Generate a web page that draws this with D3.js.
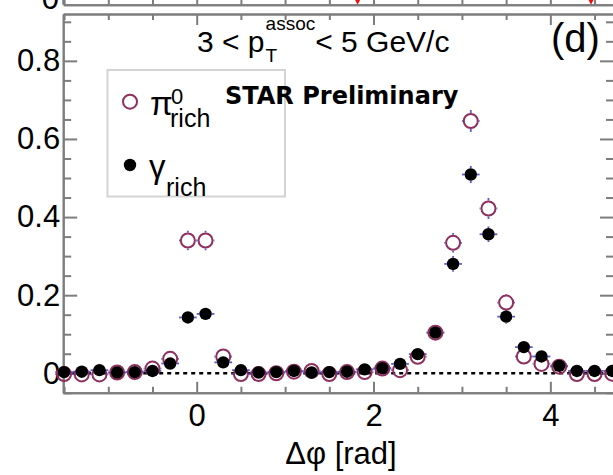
<!DOCTYPE html>
<html>
<head>
<meta charset="utf-8">
<script src="https://cdn.jsdelivr.net/npm/d3@7"></script>
<style>
  html, body { margin: 0; padding: 0; background: #fff; }
  svg { display: block; }
  text { font-family: "Liberation Sans", Arial, Helvetica, sans-serif; fill: #000; }
</style>
</head>
<body>
<svg id="chart" width="613" height="475"></svg>
<script>
// Δφ bin centres [rad]
const dphi = [-1.5, -1.3, -1.1, -0.9, -0.7, -0.5, -0.3, -0.1, 0.1, 0.3, 0.5, 0.7, 0.9, 1.1, 1.3, 1.5,
              1.7, 1.9, 2.1, 2.3, 2.5, 2.7, 2.9, 3.1, 3.3, 3.5, 3.7, 3.9, 4.1, 4.3, 4.5, 4.7];
// π0-rich triggered yields
const pi0Rich = [-0.002, -0.003, -0.003, 0.002, 0.003, 0.012, 0.037, 0.340, 0.340, 0.043, -0.002, -0.002,
                 0.000, 0.004, 0.006, -0.002, 0.003, 0.003, 0.012, 0.008, 0.042, 0.104, 0.334, 0.646,
                 0.422, 0.181, 0.043, 0.024, 0.017, -0.002, -0.002, -0.001];
const pi0Err = [0.015, 0.015, 0.015, 0.015, 0.015, 0.015, 0.015, 0.025, 0.025, 0.015, 0.015, 0.015,
                0.015, 0.015, 0.015, 0.015, 0.015, 0.015, 0.015, 0.015, 0.02, 0.02, 0.025, 0.028,
                0.027, 0.022, 0.015, 0.015, 0.015, 0.015, 0.015, 0.015];
// γ-rich triggered yields
const gammaRich = [0.003, 0.004, 0.008, 0.002, 0.003, 0.006, 0.025, 0.143, 0.152, 0.028, 0.008, 0.002,
                   0.003, 0.006, 0.002, 0.003, 0.004, 0.010, 0.013, 0.024, 0.049, 0.104, 0.280, 0.509,
                   0.356, 0.145, 0.067, 0.043, 0.019, 0.006, 0.006, 0.006];
const gammaErr = [0.01, 0.01, 0.01, 0.01, 0.01, 0.01, 0.01, 0.015, 0.015, 0.01, 0.01, 0.01,
                  0.01, 0.01, 0.01, 0.01, 0.01, 0.01, 0.01, 0.01, 0.012, 0.015, 0.02, 0.022,
                  0.02, 0.018, 0.012, 0.01, 0.01, 0.01, 0.01, 0.01];
const binHalfWidth = 0.1;

// axis ticks
const xMajorTicks = [0, 2, 4];
const xMinorTicks = [-1.5, -1, -0.5, 0.5, 1, 1.5, 2.5, 3, 3.5, 4.5];
const yMajorTicks = [0, 0.2, 0.4, 0.6, 0.8];
const yTickLabels = ["0", "0.2", "0.4", "0.6", "0.8"];
const yMinorTicks = [-0.05, 0.05, 0.1, 0.15, 0.25, 0.3, 0.35, 0.45, 0.5, 0.55, 0.65, 0.7, 0.75, 0.85, 0.9];
// arrows marking π ± 1.32 on the panel above
const coneMarkers = [1.82, 4.46];

const axisColor = "#7d7d7d";
const pi0Color = "#8e2f5e";
const errColor = "#5a5ad6";
const pi0Radius = 7, gammaRadius = 6.2;

const svg = d3.select("#chart");
const x = d3.scaleLinear().domain([-1.51, 4.72]).range([63.2, 614]);
const y = d3.scaleLinear().domain([-0.05, 0.92]).range([392.8, 14]);
const yBottom = y.range()[0], yTop = y.range()[1];
const xLeft = x.range()[0], xRight = x.range()[1];

function styleAxis(g) {
  g.select(".domain").attr("stroke", axisColor).attr("stroke-width", 2);
  g.selectAll(".tick line").attr("stroke", axisColor).attr("stroke-width", 2);
  g.selectAll(".tick text").attr("fill", "#000");
}

// ---- strip of the panel above: its x axis and markers ----
const upperAxisY = 4.7;
svg.append("g").attr("transform", `translate(0,${upperAxisY})`)
  .call(d3.axisBottom(x).tickValues(xMajorTicks).tickSize(-11).tickSizeOuter(0).tickFormat(""))
  .call(styleAxis);
svg.append("g").attr("transform", `translate(0,${upperAxisY})`)
  .call(d3.axisBottom(x).tickValues(xMinorTicks).tickSize(-6).tickSizeOuter(0).tickFormat(""))
  .call(styleAxis);
svg.append("line").attr("x1", xLeft).attr("x2", xLeft).attr("y1", -2).attr("y2", upperAxisY)
  .attr("stroke", axisColor).attr("stroke-width", 2);
svg.append("text").attr("x", 59).attr("y", 9).attr("text-anchor", "end")
  .attr("font-size", 31).text("0");
svg.selectAll("path.cone").data(coneMarkers).join("path")
  .attr("class", "cone")
  .attr("d", d => {
    const cx = x(d);
    return `M${cx - 3},-1 L${cx + 3},-1 L${cx},${upperAxisY} Z`;
  })
  .attr("fill", "#f01010");

// ---- frame of this panel ----
const gBottom = svg.append("g").attr("transform", `translate(0,${yBottom})`);
gBottom.call(d3.axisBottom(x).tickValues(xMajorTicks).tickSize(-11).tickSizeOuter(0)
  .tickPadding(11).tickFormat(d3.format("d")))
  .call(styleAxis);
gBottom.selectAll(".tick text").attr("font-size", 31);
svg.append("g").attr("transform", `translate(0,${yBottom})`)
  .call(d3.axisBottom(x).tickValues(xMinorTicks).tickSize(-6).tickSizeOuter(0).tickFormat(""))
  .call(styleAxis);

svg.append("g").attr("transform", `translate(0,${yTop})`)
  .call(d3.axisTop(x).tickValues(xMajorTicks).tickSize(-11).tickSizeOuter(0).tickFormat(""))
  .call(styleAxis);
svg.append("g").attr("transform", `translate(0,${yTop})`)
  .call(d3.axisTop(x).tickValues(xMinorTicks).tickSize(-6).tickSizeOuter(0).tickFormat(""))
  .call(styleAxis);

const gLeft = svg.append("g").attr("transform", `translate(${xLeft},0)`);
gLeft.call(d3.axisLeft(y).tickValues(yMajorTicks).tickSize(-14).tickSizeOuter(0).tickPadding(3)
  .tickFormat((d, i) => yTickLabels[i]))
  .call(styleAxis);
gLeft.selectAll(".tick text").attr("font-size", 31);
svg.append("g").attr("transform", `translate(${xLeft},0)`)
  .call(d3.axisLeft(y).tickValues(yMinorTicks).tickSize(-8).tickSizeOuter(0).tickFormat(""))
  .call(styleAxis);

svg.append("g").attr("transform", `translate(${xRight},0)`)
  .call(d3.axisRight(y).tickValues(yMajorTicks).tickSize(-14).tickSizeOuter(0).tickFormat(""))
  .call(styleAxis);
svg.append("g").attr("transform", `translate(${xRight},0)`)
  .call(d3.axisRight(y).tickValues(yMinorTicks).tickSize(-8).tickSizeOuter(0).tickFormat(""))
  .call(styleAxis);

// axis title
svg.append("text").attr("x", 341).attr("y", 464).attr("text-anchor", "middle")
  .attr("font-size", 31).text("Δφ [rad]");

// ---- zero reference line ----
svg.append("line")
  .attr("x1", xLeft).attr("x2", xRight).attr("y1", y(0)).attr("y2", y(0))
  .attr("stroke", "#000").attr("stroke-width", 2.5).attr("stroke-dasharray", "4,4");

// ---- data ----
const pi0Pts = dphi.map((d, i) => ({ x: d, y: pi0Rich[i], e: pi0Err[i] }));
const gammaPts = dphi.map((d, i) => ({ x: d, y: gammaRich[i], e: gammaErr[i] }));

// error bars are drawn only outside the marker, leaving its inside clear
function errorBars(pts, cls, gap) {
  const segs = [];
  pts.forEach(d => {
    const cx = x(d.x), cy = y(d.y);
    const xl = x(d.x - binHalfWidth), xr = x(d.x + binHalfWidth);
    const yt = y(d.y + d.e), yb = y(d.y - d.e);
    if (cx - gap > xl) segs.push([xl, cy, cx - gap, cy]);
    if (xr > cx + gap) segs.push([cx + gap, cy, xr, cy]);
    if (cy - gap > yt) segs.push([cx, yt, cx, cy - gap]);
    if (yb > cy + gap) segs.push([cx, cy + gap, cx, yb]);
  });
  svg.append("g").attr("class", cls)
    .attr("stroke", errColor).attr("stroke-width", 1.8)
    .selectAll("line").data(segs).join("line")
    .attr("x1", s => s[0]).attr("y1", s => s[1]).attr("x2", s => s[2]).attr("y2", s => s[3]);
}
errorBars(pi0Pts, "err-pi0", pi0Radius + 1);
errorBars(gammaPts, "err-gamma", gammaRadius);

svg.append("g").selectAll("circle").data(pi0Pts).join("circle")
  .attr("cx", d => x(d.x)).attr("cy", d => y(d.y)).attr("r", pi0Radius)
  .attr("fill", "none").attr("stroke", pi0Color).attr("stroke-width", 2);

svg.append("g").selectAll("circle").data(gammaPts).join("circle")
  .attr("cx", d => x(d.x)).attr("cy", d => y(d.y)).attr("r", gammaRadius)
  .attr("fill", "#000");

// ---- legend ----
const legend = svg.append("g");
legend.append("rect").attr("x", 107.5).attr("y", 70).attr("width", 177.5).attr("height", 126.5)
  .attr("fill", "#fff").attr("stroke", "#d4d4d4").attr("stroke-width", 2);
legend.append("circle").attr("cx", 130).attr("cy", 101.7).attr("r", pi0Radius)
  .attr("fill", "none").attr("stroke", pi0Color).attr("stroke-width", 2);
legend.append("circle").attr("cx", 130).attr("cy", 165).attr("r", gammaRadius).attr("fill", "#000");

legend.append("text").attr("x", 150).attr("y", 115).attr("font-size", 33).text("π");
legend.append("text").attr("x", 171).attr("y", 104).attr("font-size", 22).text("0");
legend.append("text").attr("x", 170).attr("y", 126.5).attr("font-size", 25).text("rich");
legend.append("text").attr("x", 149).attr("y", 178).attr("font-size", 33).text("γ");
legend.append("text").attr("x", 166).attr("y", 196).attr("font-size", 25).text("rich");

// ---- panel labels ----
const kin = svg.append("g");
const pText = kin.append("text").attr("x", 197).attr("y", 52).attr("font-size", 30).text("3 < p");
const pEnd = 197 + pText.node().getComputedTextLength();
const sup = kin.append("text").attr("x", pEnd + 1).attr("y", 29.5).attr("font-size", 19).text("assoc");
kin.append("text").attr("x", pEnd + 1).attr("y", 61.5).attr("font-size", 19).text("T");
const supEnd = pEnd + 1 + sup.node().getComputedTextLength();
kin.append("text").attr("x", supEnd).attr("y", 52).attr("font-size", 30).text(" < 5 GeV/c");

svg.append("text").attr("x", 551).attr("y", 51.5).attr("font-size", 40).text("(d)");

svg.append("text").attr("x", 225).attr("y", 104)
  .style("font-family", "'DejaVu Sans', Verdana, sans-serif").style("font-weight", "bold")
  .attr("font-size", 24).text("STAR Preliminary");
</script>
</body>
</html>
